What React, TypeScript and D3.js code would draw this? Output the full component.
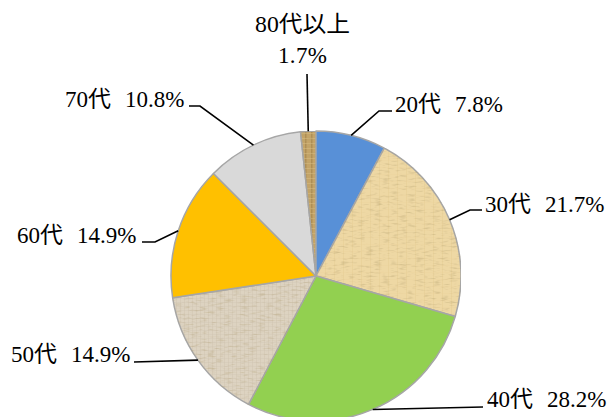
import React from "react";
import * as d3 from "d3";

const categories = ["20代", "30代", "40代", "50代", "60代", "70代", "80代以上"];
const values = [7.8, 21.7, 28.2, 14.9, 14.9, 10.8, 1.7];
const valueLabels = ["7.8%", "21.7%", "28.2%", "14.9%", "14.9%", "10.8%", "1.7%"];
const fills = ["#5890D7", "url(#texTan)", "#92D050", "url(#texLinen)", "#FFC000", "#D9D9D9", "url(#texBrown)"];

// label layout: text start x, baseline y, elbow point, end point
const labelLayout = [
  { x: 395, y: 112, ex: 379, ey: 111, tx: 392, ty: 111 },
  { x: 485, y: 212, ex: 470, ey: 210, tx: 482, ty: 210 },
  { x: 487, y: 407, ex: 483, ey: 407, tx: 483, ty: 407 },
  { x: 11, y: 362, ex: 134, ey: 362, tx: 134, ty: 362 },
  { x: 17, y: 243, ex: 155, ey: 242, tx: 142, ty: 242 },
  { x: 65, y: 107, ex: 200, ey: 106, tx: 189, ty: 106 },
  { x: 255, y: 32, ex: 307, ey: 74, tx: 307, ty: 74 },
];

const W = 609;
const H = 417;
const cx = 316;
const cy = 276;
const R = 145;
const FONT = "'Liberation Serif', 'Noto Sans CJK JP', serif";
const FS = 23;

export default function App() {
  const pie = d3.pie<number>().sort(null).value((d) => d)(values);
  const arc = d3.arc<d3.PieArcDatum<number>>().innerRadius(0).outerRadius(R);
  const anchorArc = d3.arc<d3.PieArcDatum<number>>().innerRadius(R).outerRadius(R);

  return (
    <svg width={W} height={H} style={{ position: "absolute", left: 0, top: 0, display: "block" }}>
      <defs>
        <filter id="grain" x="0" y="0" width="1" height="1">
          <feTurbulence type="fractalNoise" baseFrequency="0.12 0.5" numOctaves="2" seed="4" result="n" />
          <feColorMatrix in="n" type="matrix" values="0 0 0 0 0.45  0 0 0 0 0.35  0 0 0 0 0.15  0 0 0 -1.2 0.6" result="c" />
          <feComposite in="c" in2="SourceGraphic" operator="in" result="t" />
          <feMerge>
            <feMergeNode in="SourceGraphic" />
            <feMergeNode in="t" />
          </feMerge>
        </filter>
        <pattern id="texTan" width="9" height="7" patternUnits="userSpaceOnUse">
          <rect width="9" height="7" fill="#EED8A4" />
          <rect x="0" y="0" width="1" height="7" fill="#E3C88D" opacity="0.3" />
          <rect x="0" y="3" width="9" height="0.8" fill="#E6CD95" opacity="0.25" />
        </pattern>
        <pattern id="texLinen" width="4" height="4" patternUnits="userSpaceOnUse">
          <rect width="4" height="4" fill="#DDD3C1" />
          <rect x="0" y="0" width="1" height="4" fill="#CABEA8" opacity="0.35" />
          <rect x="0" y="2" width="4" height="1" fill="#CFC4AF" opacity="0.3" />
        </pattern>
        <pattern id="texBrown" width="6" height="5" patternUnits="userSpaceOnUse">
          <rect width="6" height="5" fill="#C4A468" />
          <rect x="1" y="0" width="1.5" height="5" fill="#A08046" opacity="0.6" />
          <rect x="0" y="2" width="6" height="1" fill="#D8BE84" opacity="0.5" />
        </pattern>
      </defs>
      <g transform={`translate(${cx},${cy})`}>
        {pie.map((p, i) => (
          <path
            key={i}
            d={arc(p) || ""}
            fill={fills[i]}
            stroke="#A6A6A6"
            strokeWidth={1.5}
            strokeLinejoin="round"
            filter={fills[i].startsWith("url") ? "url(#grain)" : undefined}
          />
        ))}
      </g>
      {pie.map((p, i) => {
        const [ax, ay] = anchorArc.centroid(p);
        const L = labelLayout[i];
        const pts = `${cx + ax},${cy + ay} ${L.ex},${L.ey} ${L.tx},${L.ty}`;
        return <polyline key={"l" + i} points={pts} fill="none" stroke="#000" strokeWidth={1.6} />;
      })}
      {labelLayout.map((L, i) => {
        if (i === 6) {
          return (
            <g key={"t" + i}>
              <text x={L.x} y={L.y} fontFamily={FONT} fontSize={FS} textLength={95} lengthAdjust="spacingAndGlyphs" fill="#000">
                {categories[i]}
              </text>
              <text x={278} y={63} fontFamily={FONT} fontSize={FS} textLength={49} lengthAdjust="spacing" fill="#000">
                {valueLabels[i]}
              </text>
            </g>
          );
        }
        return (
          <text key={"t" + i} y={L.y} fontFamily={FONT} fontSize={FS} fill="#000">
            <tspan x={L.x}>{categories[i] + " "}</tspan>
            <tspan x={L.x + 60}>{valueLabels[i]}</tspan>
          </text>
        );
      })}
    </svg>
  );
}
